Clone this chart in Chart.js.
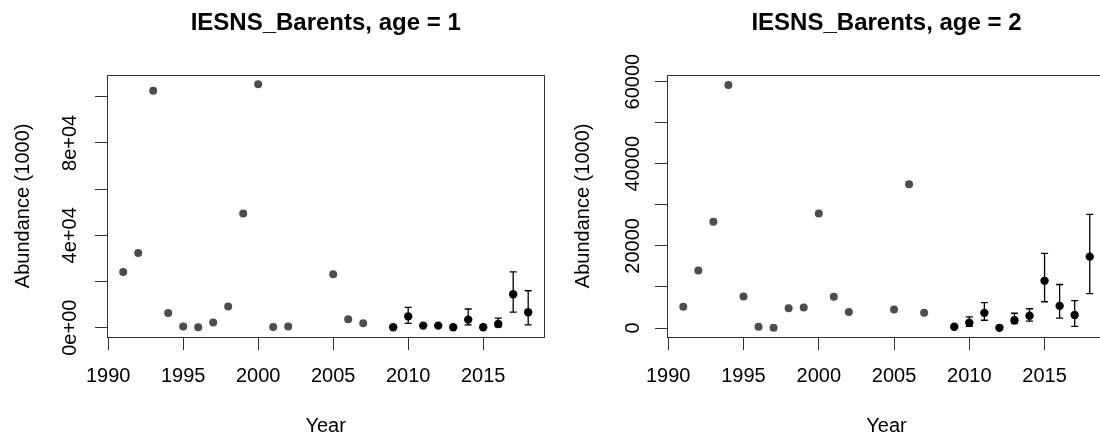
<!DOCTYPE html>
<html><head><meta charset="utf-8">
<script src="https://cdn.jsdelivr.net/npm/chart.js@4.4.1/dist/chart.umd.min.js"></script>
<style>
html,body{margin:0;padding:0;width:1100px;height:438px;overflow:hidden;background:#fff;}
canvas{position:absolute;top:0;}
#c1{left:0px}
#c2{left:560px}
</style></head><body>
<canvas id="c1" width="560" height="438"></canvas>
<canvas id="c2" width="560" height="438"></canvas>
<script>
// ---- data ----
const surveyYears = [1991,1992,1993,1994,1995,1996,1997,1998,1999,2000,2001,2002,2005,2006,2007];
const recentYears = [2009,2010,2011,2012,2013,2014,2015,2016,2017,2018];

const age1Survey = [24100,32300,102600,6400,500,200,2300,9200,49400,105400,300,500,23100,3600,1900];
const age1Recent = [200,4900,900,900,200,3500,200,1600,14500,6700];
const age1Lower  = [null,1900,null,null,null,1200,null,400,6700,1200];
const age1Upper  = [null,8800,null,null,null,8100,null,4100,24200,16000];

const age2Survey = [5200,14000,25900,59200,7700,300,100,4800,5000,27900,7600,3900,4500,35000,3700];
const age2Recent = [300,1300,3700,50,1900,3000,11500,5400,3200,17400];
const age2Lower  = [null,400,1900,null,1100,1700,6400,2400,400,8400];
const age2Upper  = [null,2700,6200,null,3600,4700,18200,10600,6700,27700];

const xTickValues = [1990,1995,2000,2005,2010,2015];
const xTickLabels = ['1990','1995','2000','2005','2010','2015'];
const age1YTicks  = [0,20000,40000,60000,80000,100000];
const age1YLabels = ['0e+00','','4e+04','','8e+04',''];
const age2YTicks  = [0,10000,20000,30000,40000,50000,60000];
const age2YLabels = ['0','','20000','','40000','','60000'];

const titles = ['IESNS_Barents, age = 1','IESNS_Barents, age = 2'];

Chart.defaults.font.family = '"Liberation Sans", Arial, Helvetica, sans-serif';
Chart.defaults.color = '#000';

function makeChart(id, title, surv, rec, lo, hi, yMin, yMax, yTicks, yLabels, padRight, yLabOff) {
  const axisColor = '#333';
  const plugins = [{
    id: 'extras',
    beforeDatasetsDraw(chart) {
      const ctx = chart.ctx, xs = chart.scales.x, ys = chart.scales.y;
      ctx.save();
      ctx.strokeStyle = '#000'; ctx.lineWidth = 1.3;
      recentYears.forEach((yr, i) => {
        if (lo[i] == null) return;
        const x = xs.getPixelForValue(yr);
        const y1 = ys.getPixelForValue(lo[i]);
        const y2 = ys.getPixelForValue(hi[i]);
        ctx.beginPath();
        ctx.moveTo(x, y1); ctx.lineTo(x, y2);
        ctx.moveTo(x - 3.5, y1); ctx.lineTo(x + 3.5, y1);
        ctx.moveTo(x - 3.5, y2); ctx.lineTo(x + 3.5, y2);
        ctx.stroke();
      });
      ctx.restore();
    },
    afterDraw(chart) {
      const ctx = chart.ctx, a = chart.chartArea, ys = chart.scales.y;
      ctx.save();
      ctx.strokeStyle = axisColor; ctx.lineWidth = 1;
      ctx.strokeRect(Math.round(a.left) + 0.5, Math.round(a.top) + 0.5,
                     Math.round(a.right - a.left), Math.round(a.bottom - a.top));
      ctx.fillStyle = '#000';
      ctx.font = '20px "Liberation Sans", Arial, sans-serif';
      ctx.textAlign = 'center'; ctx.textBaseline = 'middle';
      yTicks.forEach((v, i) => {
        if (!yLabels[i]) return;
        const y = ys.getPixelForValue(v);
        ctx.save();
        ctx.translate(a.left - yLabOff, y);
        ctx.rotate(-Math.PI / 2);
        ctx.fillText(yLabels[i], 0, 0);
        ctx.restore();
      });
      ctx.restore();
    }
  }];
  return new Chart(document.getElementById(id), {
    type: 'scatter',
    data: {
      datasets: [
        { data: surveyYears.map((x, i) => ({x, y: surv[i]})),
          backgroundColor: '#4d4d4d', borderWidth: 0, pointRadius: 4 },
        { data: recentYears.map((x, i) => ({x, y: rec[i]})),
          backgroundColor: '#000', borderWidth: 0, pointRadius: 4.2 }
      ]
    },
    options: {
      responsive: false, animation: false, events: [],
      layout: { padding: { left: 0, right: padRight, top: 0, bottom: 0 } },
      plugins: {
        legend: { display: false }, tooltip: { enabled: false },
        title: { display: true, text: title, fullSize: false,
                 font: { size: 24, weight: 'bold' }, color: '#000',
                 padding: { top: 9, bottom: 36.9 } }
      },
      scales: {
        x: {
          type: 'linear', position: 'bottom', min: 1989.92, max: 2019.08,
          afterBuildTicks: s => { s.ticks = xTickValues.map(v => ({ value: v })); },
          afterFit: s => { s.height = 101; },
          ticks: { font: { size: 20 }, color: '#000', padding: 14, maxRotation: 0, autoSkip: false,
                   callback: (v, i) => xTickLabels[i] },
          grid: { drawOnChartArea: false, drawTicks: true, tickLength: 13, color: axisColor },
          border: { display: false },
          title: { display: true, text: 'Year', font: { size: 20 }, color: '#000', padding: { top: 0, bottom: 0 } }
        },
        y: {
          type: 'linear', position: 'left', min: yMin, max: yMax,
          afterBuildTicks: s => { s.ticks = yTicks.map(v => ({ value: v })); },
          afterFit: s => { s.width = 107; },
          ticks: { display: false },
          grid: { drawOnChartArea: false, drawTicks: true, tickLength: 12, color: axisColor },
          border: { display: false },
          title: { display: true, text: 'Abundance (1000)', font: { size: 20 }, color: '#000', padding: { top: 11, bottom: 0 } }
        }
      }
    },
    plugins
  });
}

makeChart('c1', titles[0], age1Survey, age1Recent, age1Lower, age1Upper, -4030, 109520, age1YTicks, age1YLabels, 15.6, 37);
makeChart('c2', titles[1], age2Survey, age2Recent, age2Lower, age2Upper, -2180, 61700, age2YTicks, age2YLabels, 14, 34);
</script>
</body></html>
